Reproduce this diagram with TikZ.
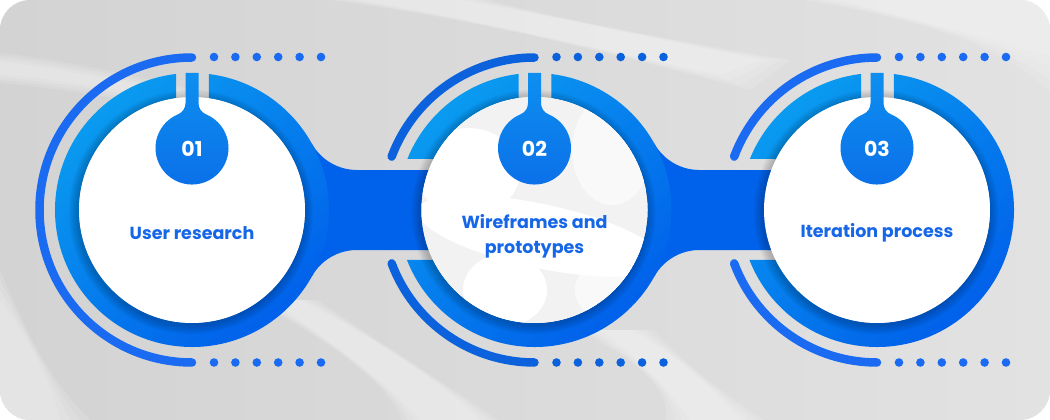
\documentclass[tikz,border=0pt]{standalone}
\usepackage{fontspec}
\setmainfont{Poppins}
\usetikzlibrary{calc}
\definecolor{bgA}{HTML}{D3D3D3}
\definecolor{bgB}{HTML}{E2E2E2}
\definecolor{ringL}{HTML}{0A9BF0}
\definecolor{ringD}{HTML}{0060EA}
\definecolor{bandC}{HTML}{0062EA}
\definecolor{thinC}{HTML}{1A6BF2}
\definecolor{thinD}{HTML}{0B62DC}
\definecolor{badgeT}{HTML}{0D8FF0}
\definecolor{badgeB}{HTML}{0B6FE8}
\definecolor{txtC}{HTML}{1666E8}
\tikzset{
  ringshade/.style={top color=ringL, bottom color=ringD, shading angle=40},
  badgeshade/.style={top color=badgeT, bottom color=badgeB},
  thinarc/.style={line width=8.5pt, line cap=round},
  label/.style={text=txtC, font=\fontsize{17.5}{25}\selectfont\bfseries, align=center},
  numlabel/.style={text=white, font=\fontsize{20.5}{24}\selectfont\bfseries},
  whitec/.style={fill=white},
  streak/.style={fill=white, opacity=0.13},
}
\begin{document}
\begin{tikzpicture}[x=1pt,y=-1pt]
\useasboundingbox (0,0) rectangle (1050,420);
\fill[white] (0,0) rectangle (1050,420);
% background
\begin{scope}
\clip[rounded corners=30] (0,0) rectangle (1050,420);
\shade[left color=bgA, right color=bgB] (0,0) rectangle (1050,420);
\foreach \w in {0,3,6,9} {
\fill[streak] (0,62-\w) .. controls (90,72-\w) and (180,96-\w) .. (270,113-\w/2) -- (270,117+\w/2) .. controls (180,102+\w) and (90,82+\w) .. (0,74+\w) -- cycle;
}
\foreach \w in {0,10,20,30} {
\fill[streak] (360-\w,0) .. controls (480,20) and (600,50) .. (720+\w,75+\w/2) -- (760+\w,60) .. controls (640,35) and (520,10) .. (460+\w,0) -- cycle;
}
\foreach \w in {0,12,24,36} {
\fill[streak] (840-\w,0) .. controls (920,20) and (990,40) .. (1050,55+\w) -- (1050,0) -- cycle;
}
\foreach \w in {0,6,12,18} {
\fill[streak] (270-\w,300) .. controls (330,340) and (390,385) .. (420-\w,420) -- (480+\w,420) .. controls (440,380) and (360,330) .. (300+\w,300) -- cycle;
}
\foreach \w in {0,8,16,24} {
\fill[streak] (600-\w,330) .. controls (640,360) and (670,390) .. (690-\w,420) -- (740+\w,420) .. controls (710,385) and (670,350) .. (630+\w,330) -- cycle;
}
\foreach \w in {0,10,20,30} {
\fill[streak] (0,300-\w) .. controls (30,340) and (50,380) .. (60+\w,420) -- (0,420) -- cycle;
}
\end{scope}
% bands
\foreach \cx in {192,534.5} {
  \fill[bandC] ($(\cx,0)+(119.7,143.4)$) arc[start angle=150.9, end angle=90, radius=51.8]
     -- ($(\cx,0)+(283,170)$) -- ($(\cx,0)+(283,250)$) -- ($(\cx,0)+(165,250)$)
     arc[start angle=270, end angle=209.1, radius=51.8] -- cycle;
}
% thin arcs
\draw[thinarc, draw=thinC] (192,210) ++(90:152.5) arc[start angle=90, end angle=270, radius=152.5];
\foreach \cx/\cc in {534.5/thinD,877/thinC} {
  \draw[thinarc, draw=\cc] (\cx,210) ++(90:152.5) arc[start angle=90, end angle=159.5, radius=152.5];
  \draw[thinarc, draw=\cc] (\cx,210) ++(200.5:152.5) arc[start angle=200.5, end angle=270, radius=152.5];
}
% dots
\foreach \cx/\cc in {192/thinC,534.5/thinD,877/thinC} {
  \foreach \k in {0,...,5} {
    \fill[\cc] (\cx+22+21.4*\k,57) circle[radius=4.3];
    \fill[\cc] (\cx+22+21.4*\k,362.5) circle[radius=4.3];
  }
}
% ring 1
\begin{scope}[shift={(192,210)}]
\clip (277.1:137) arc[start angle=277.1, end angle=623.3, radius=137] -- (621.86:113) arc[start angle=621.86, end angle=278.65, radius=113] -- cycle;
\shade[ringshade] (-140,-140) rectangle (140,140);
\end{scope}
% rings 2,3
\foreach \cx in {534.5,877} {
\begin{scope}[shift={(\cx,210)}]
\clip (201.86:137) arc[start angle=201.86, end angle=263.3, radius=137] -- (261.86:113) arc[start angle=261.86, end angle=206.83, radius=113] -- cycle
      (277.1:137) arc[start angle=277.1, end angle=518.6, radius=137] -- (513.74:113) arc[start angle=513.74, end angle=278.65, radius=113] -- cycle;
\shade[ringshade] (-140,-140) rectangle (140,140);
\end{scope}
}
% shadows + white circles
\foreach \cx in {192,534.5,877} {
  \foreach \i in {1,...,7} {
    \fill[black, opacity=0.03] (\cx-1,212) circle[radius=113+1.3*\i];
  }
}
\node[whitec, circle, minimum size=226pt, inner sep=0pt] (c1) at (192,210) {};
\node[whitec, circle, minimum size=226pt, inner sep=0pt] (c2) at (534.5,210) {};
\node[whitec, circle, minimum size=226pt, inner sep=0pt] (c3) at (877,210) {};
% watermark in circle 2
\begin{scope}
\clip (534.5,210) circle[radius=113];
\fill[black!5] (534.5,210) circle[radius=113];
\fill[white] (468,172) ellipse[x radius=52, y radius=44];
\fill[white, rotate around={-12:(540,236)}] (540,236) ellipse[x radius=125, y radius=32];
\fill[white] (505,290) ellipse[x radius=42, y radius=36];
\fill[white, opacity=0.6] (612,150) ellipse[x radius=40, y radius=55];
\fill[white, opacity=0.6] (610,290) ellipse[x radius=35, y radius=30];
\end{scope}
% badges
\foreach \cx in {192,534.5,877} {
\begin{scope}[shift={(\cx,0)}]
\shade[badgeshade] (-6.5,73) -- (-6.5,103.2) arc[start angle=0, end angle=67.57, radius=12]
   arc[start angle=247.57, end angle=-67.57, radius=36.5]
   arc[start angle=112.43, end angle=180, radius=12] -- (6.5,73) -- cycle;
\end{scope}
}
\node[numlabel] (n1) at (192,149) {01};
\node[numlabel] (n2) at (534.5,149) {02};
\node[numlabel] (n3) at (877,149) {03};
\node[label] (t1) at (192,233) {User research};
\node[label] (t2) at (534.5,236) {Wireframes and\\prototypes};
\node[label] (t3) at (877,233) {Iteration process};
\end{tikzpicture}
\end{document}
